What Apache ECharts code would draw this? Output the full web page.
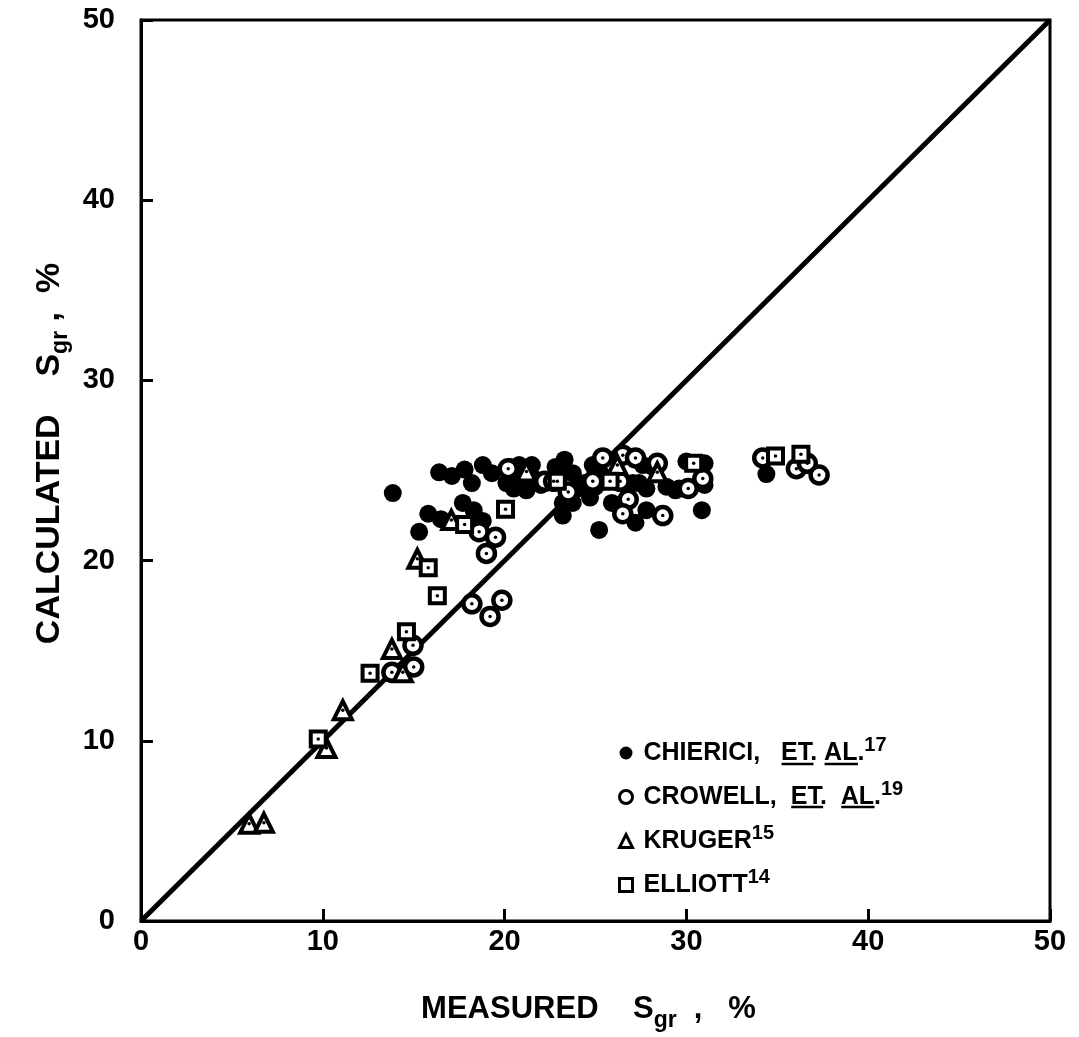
<!DOCTYPE html>
<html>
<head>
<meta charset="utf-8">
<script src="https://cdn.jsdelivr.net/npm/echarts@6/dist/echarts.min.js"></script>
<style>
html,body{margin:0;padding:0;background:#fff;}
#chart{width:1079px;height:1037px;}
</style>
</head>
<body>
<div id="chart"></div>
<script>
// ---- data (measured Sgr %, calculated Sgr %) ----
const chierici = [
  [13.85,23.75],[16.4,24.9],[17.1,24.7],[17.8,25.05],[18.2,24.3],[18.8,25.3],[19.3,24.85],
  [15.8,22.6],[16.5,22.3],[17.7,23.2],[18.3,22.8],[18.8,22.2],[15.3,21.6],
  [20.3,25.2],[20.8,25.3],[21.5,25.3],[20.1,24.3],[20.6,24.4],[21.2,24.3],[21.7,24.5],
  [20.5,24.0],[21.2,23.9],[22.0,24.2],
  [22.8,25.2],[23.3,25.6],[23.2,24.85],[23.75,24.85],[23.2,23.2],[23.75,23.2],[23.2,22.5],[24.0,24.0],
  [24.85,25.3],[24.7,23.5],[25.2,21.7],[25.9,23.2],[25.9,24.5],[25.0,24.1],[25.3,24.8],[24.4,24.3],
  [27.05,24.3],[27.2,22.1],[27.4,24.3],[27.8,22.8],[27.8,24.0],[28.15,25.2],[28.9,24.1],[29.4,23.9],
  [30.0,25.5],[31.0,25.4],[31.0,24.2],[30.85,22.8],[29.6,24.0],[34.4,24.8],[26.2,24.9],[27.6,25.3]
];
const crowell = [
  [22.2,24.4],[23.5,23.8],[24.85,24.4],[25.4,25.7],[26.35,24.4],[26.5,25.85],[27.2,25.7],[28.4,25.4],
  [26.8,23.4],[26.5,22.6],[28.7,22.5],[30.1,24.0],[30.9,24.55],[34.2,25.7],[36.05,25.1],[36.65,25.4],
  [37.3,24.75],[18.6,21.6],[19.5,21.3],[19.0,20.4],[18.2,17.6],[19.85,17.8],[19.2,16.9],
  [14.96,15.3],[15.0,14.1],[13.8,13.8],[20.2,25.1],[22.7,24.4]
];
const kruger = [
  [5.95,5.4],[6.76,5.45],[10.2,9.6],[11.1,11.7],[14.4,13.8],[13.8,15.1],[15.2,20.1],
  [17.07,22.25],[21.2,24.95],[26.2,25.3],[28.4,24.9]
];
const elliott = [
  [9.75,10.1],[12.6,13.75],[14.6,16.05],[16.3,18.05],[15.8,19.6],[17.8,22.0],[20.05,22.85],
  [22.9,24.4],[25.8,24.4],[30.4,25.4],[34.9,25.8],[36.3,25.9]
];
const diagonal = [[0,0],[50,50]];
const axisMin = 0, axisMax = 50, axisStep = 10;
const seriesNames = ['CHIERICI', 'CROWELL', 'KRUGER', 'ELLIOTT'];
// legend text pieces: [before underline 1, underlined 1, between, underlined 2, after, superscript]
const legendParts = {
  CHIERICI: ['CHIERICI,   ', 'ET', '. ', 'AL', '.', '17'],
  CROWELL: ['CROWELL,  ', 'ET', '.  ', 'AL', '.', '19'],
  KRUGER: ['KRUGER', '', '', '', '', '15'],
  ELLIOTT: ['ELLIOTT', '', '', '', '', '14']
};

const FONT = '"Liberation Sans", Arial, sans-serif';
const LEG_FS = 25;
const chart = echarts.init(document.getElementById('chart'), null, {renderer: 'canvas'});

function legendText(n) {
  const p = legendParts[n];
  return '{g|}' + p[0] + p[1] + p[2] + p[3] + p[4] + '{sup|' + p[5] + '}';
}

function hollow(name, data, symbol, size, bw) {
  return {
    name: name, type: 'scatter', data: data, symbol: symbol, symbolSize: size,
    itemStyle: {color: '#fff', borderColor: '#000', borderWidth: bw, opacity: 1},
    emphasis: {disabled: true}, z: 3
  };
}
function dots(data) {
  return {
    type: 'scatter', data: data, symbol: 'circle', symbolSize: 3.5, silent: true,
    itemStyle: {color: '#000', opacity: 1}, emphasis: {disabled: true}, z: 4
  };
}
const subRich = {sub: {fontFamily: FONT, fontSize: 23, fontWeight: 'bold', color: '#000', verticalAlign: 'bottom', padding: [22, 0, 0, 0]}};

// underline segments for the legend (measured from the text itself)
const legLeft = 613, legTop = 730, legGap = 13.5, legRowH = 29.5, legFirst = 21;
const textX0 = 644;
const mctx = document.createElement('canvas').getContext('2d');
mctx.font = 'bold ' + LEG_FS + 'px "Liberation Sans"';
const underlines = [];
seriesNames.forEach(function (n, i) {
  const p = legendParts[n];
  if (!p[1]) return;
  const yc = legTop + legFirst + i * (legRowH + legGap) + 13;
  const a0 = textX0 + mctx.measureText(p[0]).width;
  const a1 = a0 + mctx.measureText(p[1]).width;
  const b0 = textX0 + mctx.measureText(p[0] + p[1] + p[2]).width;
  const b1 = b0 + mctx.measureText(p[3]).width;
  [[a0, a1], [b0, b1]].forEach(function (s) {
    underlines.push({type: 'line', shape: {x1: s[0], y1: yc, x2: s[1], y2: yc},
      style: {stroke: '#000', lineWidth: 2.5}, silent: true, z: 10});
  });
});

const option = {
  animation: false,
  backgroundColor: '#fff',
  grid: {left: 141, top: 20, right: 29, bottom: 116, show: true, borderColor: '#000', borderWidth: 3, backgroundColor: 'transparent'},
  xAxis: {
    type: 'value', min: axisMin, max: axisMax, interval: axisStep,
    axisLine: {show: true, lineStyle: {color: '#000', width: 3}},
    axisTick: {show: true, inside: true, length: 12, lineStyle: {color: '#000', width: 3}},
    splitLine: {show: false},
    axisLabel: {color: '#000', fontFamily: FONT, fontSize: 29, fontWeight: 'bold', margin: 6},
    name: 'MEASURED    S{sub|gr}  ,   %',
    nameLocation: 'middle', nameGap: 66,
    nameTextStyle: {color: '#000', fontFamily: FONT, fontSize: 31, fontWeight: 'bold', rich: subRich,
      padding: [0, 14, 0, 0]}
  },
  yAxis: {
    type: 'value', min: axisMin, max: axisMax, interval: axisStep,
    axisLine: {show: true, lineStyle: {color: '#000', width: 3}},
    axisTick: {show: true, inside: true, length: 12, lineStyle: {color: '#000', width: 3}},
    splitLine: {show: false},
    axisLabel: {color: '#000', fontFamily: FONT, fontSize: 29, fontWeight: 'bold', margin: 26},
    name: 'CALCULATED    S{sub|gr} ,  %',
    nameLocation: 'middle', nameGap: 67, nameRotate: 90,
    nameTextStyle: {color: '#000', fontFamily: FONT, fontSize: 34, fontWeight: 'bold', rich: subRich,
      padding: [0, 0, 0, 34]}
  },
  legend: {
    data: [
      {name: 'CHIERICI', itemStyle: {color: '#000', borderWidth: 0}},
      {name: 'CROWELL', itemStyle: {color: '#fff', borderColor: '#000', borderWidth: 3}},
      {name: 'KRUGER', itemStyle: {color: '#fff', borderColor: '#000', borderWidth: 3}},
      {name: 'ELLIOTT', itemStyle: {color: '#fff', borderColor: '#000', borderWidth: 3}}
    ],
    orient: 'vertical', left: legLeft, top: legTop, itemGap: legGap,
    itemWidth: 13, itemHeight: 13,
    formatter: legendText,
    textStyle: {color: '#000', fontFamily: FONT, fontSize: LEG_FS, fontWeight: 'bold',
      rich: {
        g: {width: 6},
        sup: {fontFamily: FONT, fontSize: 20, fontWeight: 'bold', color: '#000', verticalAlign: 'top', padding: [0, 0, 16, 0]}
      }},
    selectedMode: false
  },
  graphic: underlines,
  series: [
    {
      type: 'line', data: diagonal, symbol: 'none', silent: true,
      lineStyle: {color: '#000', width: 5}, z: 2
    },
    {
      name: 'CHIERICI', type: 'scatter', data: chierici, symbol: 'circle', symbolSize: 18,
      itemStyle: {color: '#000', opacity: 1}, emphasis: {disabled: true}, z: 3
    },
    hollow('CROWELL', crowell, 'circle', 17, 4.5),
    dots(crowell),
    hollow('KRUGER', kruger, 'triangle', 18, 4),
    dots(kruger),
    hollow('ELLIOTT', elliott, 'rect', 15, 4),
    dots(elliott)
  ]
};
chart.setOption(option);
</script>
</body>
</html>
